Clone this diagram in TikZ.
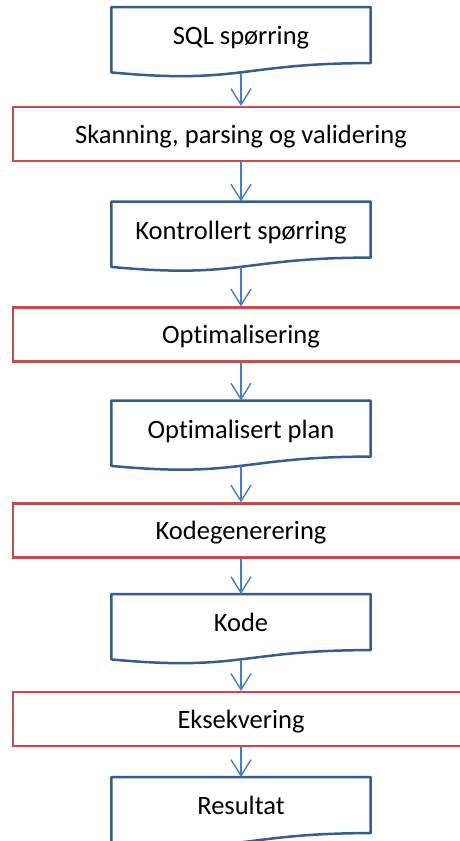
\documentclass[tikz,border=0pt]{standalone}
\usepackage{fontspec}
\setmainfont{Carlito}[Ligatures=NoCommon]
\usetikzlibrary{arrows.meta,calc}
\definecolor{docblue}{HTML}{385D8A}
\definecolor{procred}{HTML}{C0504D}
\definecolor{flowblue}{HTML}{4A7EBB}
\tikzset{
  labelfont/.style={font=\fontsize{26.5}{30}\selectfont},
  docbox/.style={labelfont, minimum width=259pt, minimum height=65.3pt,
    inner sep=0pt, anchor=north, text height=18pt, text depth=8.3pt},
  procbox/.style={labelfont, draw=procred, line width=2.2pt, fill=white,
    minimum width=456pt, minimum height=54pt, inner sep=0pt,
    text height=18pt, text depth=0pt},
  docline/.style={draw=docblue, line width=2.5pt, line join=round, fill=white},
  flow/.style={draw=flowblue, line width=1.4pt,
    -{Straight Barb[length=16pt,width=20pt,line width=1.4pt]}}
}
% outline of a flowchart "document" symbol around a docbox node
\newcommand\docoutline[1]{%
  \path[docline] (#1.north west) -- (#1.north east) -- ++(0,56.1)
    .. controls ($(#1.north)+(0,56.1)$) and ($(#1.north)+(0,77.6)$)
    .. ($(#1.north west)+(0,65.4)$) -- cycle;}
\begin{document}
\begin{tikzpicture}[x=1pt,y=-1pt]
  \clip (0,0) rectangle (460,841);
  \fill[white] (0,0) rectangle (460,841);

  % document symbols
  \node[docbox] (d1) at (241,7) {};
  \node[docbox] (d2) at (241,201.5) {};
  \node[docbox] (d3) at (241,400.5) {};
  \node[docbox] (d4) at (241,594) {};
  \node[docbox] (d5) at (241,777) {};
  \docoutline{d1}\docoutline{d2}\docoutline{d3}\docoutline{d4}\docoutline{d5}
  \node[docbox] at (d1.north) {SQL spørring};
  \node[docbox] at (d2.north) {Kontrollert spørring};
  \node[docbox] at (d3.north) {Optimalisert plan};
  \node[docbox] at (d4.north) {Kode};
  \node[docbox] at (d5.north) {Resultat};

  % process steps
  \node[procbox] (r1) at (241,134)   {Skanning, parsing og validering};
  \node[procbox] (r2) at (241,334.5) {Optimalisering};
  \node[procbox] (r3) at (241,530.5) {Kodegenerering};
  \node[procbox] (r4) at (241,719)   {Eksekvering};

  % flow
  \draw[flow] (d1.south) -- (r1.north);
  \draw[flow] (r1.south) -- (d2.north);
  \draw[flow] (d2.south) -- (r2.north);
  \draw[flow] (r2.south) -- (d3.north);
  \draw[flow] (d3.south) -- (r3.north);
  \draw[flow] (r3.south) -- (d4.north);
  \draw[flow] (d4.south) -- (r4.north);
  \draw[flow] (r4.south) -- (d5.north);
\end{tikzpicture}
\end{document}
